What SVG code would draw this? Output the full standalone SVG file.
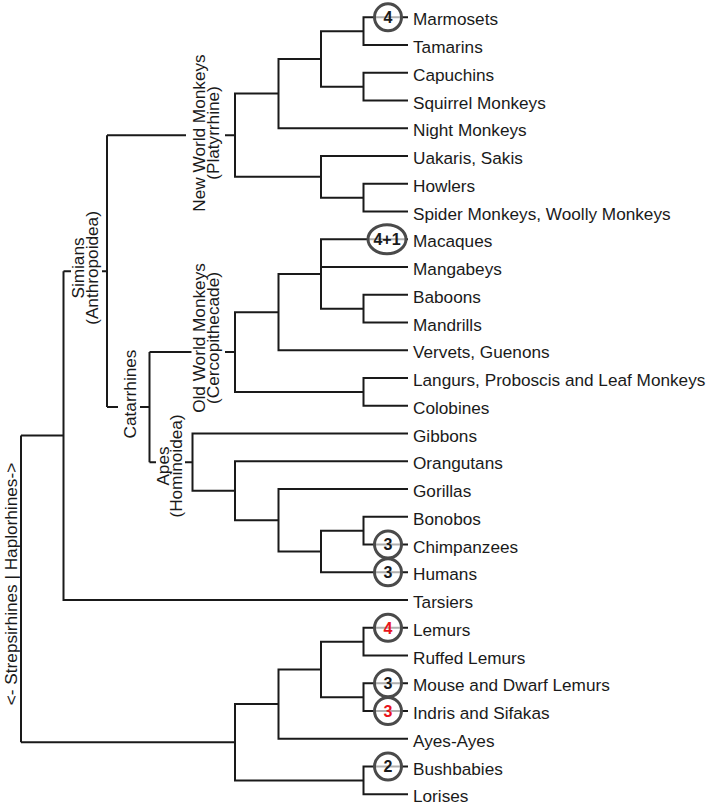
<svg xmlns="http://www.w3.org/2000/svg" width="709" height="807" viewBox="0 0 709 807">
<style>
text{font-family:"Liberation Sans",Arial,sans-serif;fill:#1a1a1a}
.leaf{font-size:17.2px}
.clade{font-size:17.2px;text-anchor:middle}
.edge{fill:none;stroke:#1a1a1a;stroke-width:2}
.badge{fill:#fff;fill-opacity:0.65;stroke:#4a4a4a;stroke-width:3}
.num{font-size:16px;font-weight:bold;text-anchor:middle}
.red{fill:#e8141c}
</style>
<rect width="709" height="807" fill="#fff"/>
<g id="connectors" class="edge">
<path d="M408 17.3H363.5V45.05H408M408 72.8H363.5V100.55H408M363.5 31.18H321V86.68H363.5M321 58.93H278.5V128.3H408M408 183.8H363.5V211.55H408M408 156.05H321V197.68H363.5M278.5 93.61H235V176.86H321M107 135.24H186M225 135.24H235"/>
<path d="M408 294.8H363.5V322.55H408M408 239.3H321V308.68H363.5M321 267.05H408M321 273.99H278.5V350.3H408M408 378.05H363.5V405.8H408M278.5 312.14H235V391.93H363.5M149.5 352.03H191.5M225 352.03H235"/>
<path d="M408 516.8H363.5V544.55H408M363.5 530.68H321V572.3H408M408 489.05H278.5V551.49H321M408 461.3H235V520.27H278.5M408 433.55H192.5V490.78H235M149.5 462.17H156M185 462.17H192.5"/>
<path d="M149.5 352.03V462.17M107 407.1H118M140 407.1H149.5M107 135.24V407.1M63.5 271.17H71M102 271.17H107M63.5 271.17V600.05H408M21 435.61H63.5"/>
<path d="M408 627.8H363.5V655.55H408M408 683.3H363.5V711.05H408M363.5 641.68H321V697.18H363.5M321 669.43H278.5V738.8H408M408 766.55H363.5V794.3H408M278.5 704.11H235V780.43H363.5M21 742.27H235M21 435.61V742.27"/>
</g>
<g id="clade-labels">
<g id="root-label"><text class="clade" transform="translate(16.5,584) rotate(-90)">&lt;- Strepsirhines | Haplorhines-&gt;</text></g>
<g id="simians-label"><text class="clade" transform="translate(84,268) rotate(-90)"><tspan x="0" y="0">Simians</tspan><tspan x="0" dy="13.5">(Anthropoidea)</tspan></text></g>
<g id="nwm-label"><text class="clade" transform="translate(204.5,133) rotate(-90)"><tspan x="0" y="0">New World Monkeys</tspan><tspan x="0" dy="14">(Platyrrhine)</tspan></text></g>
<g id="catarrhines-label"><text class="clade" transform="translate(135.5,394) rotate(-90)">Catarrhines</text></g>
<g id="owm-label"><text class="clade" transform="translate(205,338) rotate(-90)"><tspan x="0" y="0">Old World Monkeys</tspan><tspan x="0" dy="14">(Cercopithecade)</tspan></text></g>
<g id="apes-label"><text class="clade" transform="translate(169,466) rotate(-90)"><tspan x="0" y="0">Apes</tspan><tspan x="0" dy="13">(Hominoidea)</tspan></text></g>
</g>
<g id="leaves" class="leaf">
<g id="marmosets"><circle class="badge" cx="388" cy="17.3" r="13.5"/><text class="num" x="388" y="23">4</text><text x="413" y="25.3">Marmosets</text></g>
<g id="tamarins"><text x="413" y="53.05">Tamarins</text></g>
<g id="capuchins"><text x="413" y="80.8">Capuchins</text></g>
<g id="squirrel-monkeys"><text x="413" y="108.55">Squirrel Monkeys</text></g>
<g id="night-monkeys"><text x="413" y="136.3">Night Monkeys</text></g>
<g id="uakaris"><text x="413" y="164.05">Uakaris, Sakis</text></g>
<g id="howlers"><text x="413" y="191.8">Howlers</text></g>
<g id="spider-monkeys"><text x="413" y="219.55">Spider Monkeys, Woolly Monkeys</text></g>
<g id="macaques"><ellipse class="badge" cx="387" cy="239.3" rx="19" ry="14.5"/><text class="num" x="387" y="245">4+1</text><text x="413" y="247.3">Macaques</text></g>
<g id="mangabeys"><text x="413" y="275.05">Mangabeys</text></g>
<g id="baboons"><text x="413" y="302.8">Baboons</text></g>
<g id="mandrills"><text x="413" y="330.55">Mandrills</text></g>
<g id="vervets"><text x="413" y="358.3">Vervets, Guenons</text></g>
<g id="langurs"><text x="413" y="386.05">Langurs, Proboscis and Leaf Monkeys</text></g>
<g id="colobines"><text x="413" y="413.8">Colobines</text></g>
<g id="gibbons"><text x="413" y="441.55">Gibbons</text></g>
<g id="orangutans"><text x="413" y="469.3">Orangutans</text></g>
<g id="gorillas"><text x="413" y="497.05">Gorillas</text></g>
<g id="bonobos"><text x="413" y="524.8">Bonobos</text></g>
<g id="chimpanzees"><circle class="badge" cx="388" cy="544.55" r="13.5"/><text class="num" x="388" y="550.25">3</text><text x="413" y="552.55">Chimpanzees</text></g>
<g id="humans"><circle class="badge" cx="388" cy="572.3" r="13.5"/><text class="num" x="388" y="578">3</text><text x="413" y="580.3">Humans</text></g>
<g id="tarsiers"><text x="413" y="608.05">Tarsiers</text></g>
<g id="lemurs"><circle class="badge" cx="388" cy="627.8" r="13.5"/><text class="num red" x="388" y="633.5">4</text><text x="413" y="635.8">Lemurs</text></g>
<g id="ruffed-lemurs"><text x="413" y="663.55">Ruffed Lemurs</text></g>
<g id="mouse-lemurs"><circle class="badge" cx="388" cy="683.3" r="13.5"/><text class="num" x="388" y="689">3</text><text x="413" y="691.3">Mouse and Dwarf Lemurs</text></g>
<g id="indris"><circle class="badge" cx="388" cy="711.05" r="13.5"/><text class="num red" x="388" y="716.75">3</text><text x="413" y="719.05">Indris and Sifakas</text></g>
<g id="ayes-ayes"><text x="413" y="746.8">Ayes-Ayes</text></g>
<g id="bushbabies"><circle class="badge" cx="388" cy="766.55" r="13.5"/><text class="num" x="388" y="772.25">2</text><text x="413" y="774.55">Bushbabies</text></g>
<g id="lorises"><text x="413" y="802.3">Lorises</text></g>
</g>
</svg>
